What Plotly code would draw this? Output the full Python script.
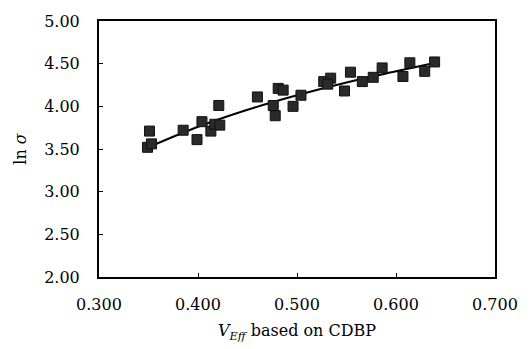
import plotly.graph_objects as go

# Scatter data
v_eff = [0.349, 0.353, 0.351, 0.385, 0.399, 0.404, 0.413, 0.417, 0.422, 0.421,
         0.460, 0.476, 0.478, 0.481, 0.486, 0.496, 0.504, 0.527, 0.534, 0.531,
         0.548, 0.554, 0.566, 0.577, 0.586, 0.607, 0.614, 0.629, 0.639]
ln_sigma = [3.52, 3.56, 3.71, 3.72, 3.61, 3.82, 3.71, 3.79, 3.78, 4.01,
            4.11, 4.01, 3.89, 4.21, 4.19, 4.00, 4.13, 4.29, 4.33, 4.26,
            4.18, 4.40, 4.29, 4.34, 4.45, 4.35, 4.51, 4.41, 4.52]

# Fitted curve
fit_x = [0.35, 0.40, 0.45, 0.50, 0.55, 0.60, 0.64]
fit_y = [3.52, 3.76, 3.96, 4.13, 4.28, 4.41, 4.51]

x_ticks = [0.3, 0.4, 0.5, 0.6, 0.7]
y_ticks = [2.0, 2.5, 3.0, 3.5, 4.0, 4.5, 5.0]

FONT = "DejaVu Serif"

fig = go.Figure()
fig.add_trace(go.Scatter(
    x=fit_x, y=fit_y, mode="lines", line=dict(color="black", width=2, shape="spline"),
    showlegend=False, hoverinfo="skip"))
fig.add_trace(go.Scatter(
    x=v_eff, y=ln_sigma, mode="markers",
    marker=dict(symbol="square", size=10, color="#2a2a2a",
                line=dict(color="#111111", width=1)),
    showlegend=False))

axis_common = dict(showgrid=False, zeroline=False, showline=True, linecolor="black",
                   linewidth=2, mirror=True, ticks="inside", ticklen=4, tickwidth=1,
                   tickcolor="black", tickfont=dict(family=FONT, size=16, color="black"))

fig.update_xaxes(range=[0.3, 0.7], tickvals=x_ticks, tickformat=".3f",
                 ticklabelstandoff=12,
                 title=dict(text="<i>V</i><sub><i>Eff</i></sub> based on CDBP",
                            font=dict(family=FONT, size=16, color="black"), standoff=12),
                 **axis_common)
fig.update_yaxes(range=[2.0, 5.0], tickvals=y_ticks, tickformat=".2f",
                 ticklabelstandoff=14,
                 title=dict(text="ln <i>σ</i>",
                            font=dict(family=FONT, size=16, color="black"), standoff=14),
                 **axis_common)

fig.update_layout(width=530, height=349, margin=dict(l=99, r=31, t=15, b=71),
                  paper_bgcolor="white", plot_bgcolor="white")

fig.write_html("out.html")
